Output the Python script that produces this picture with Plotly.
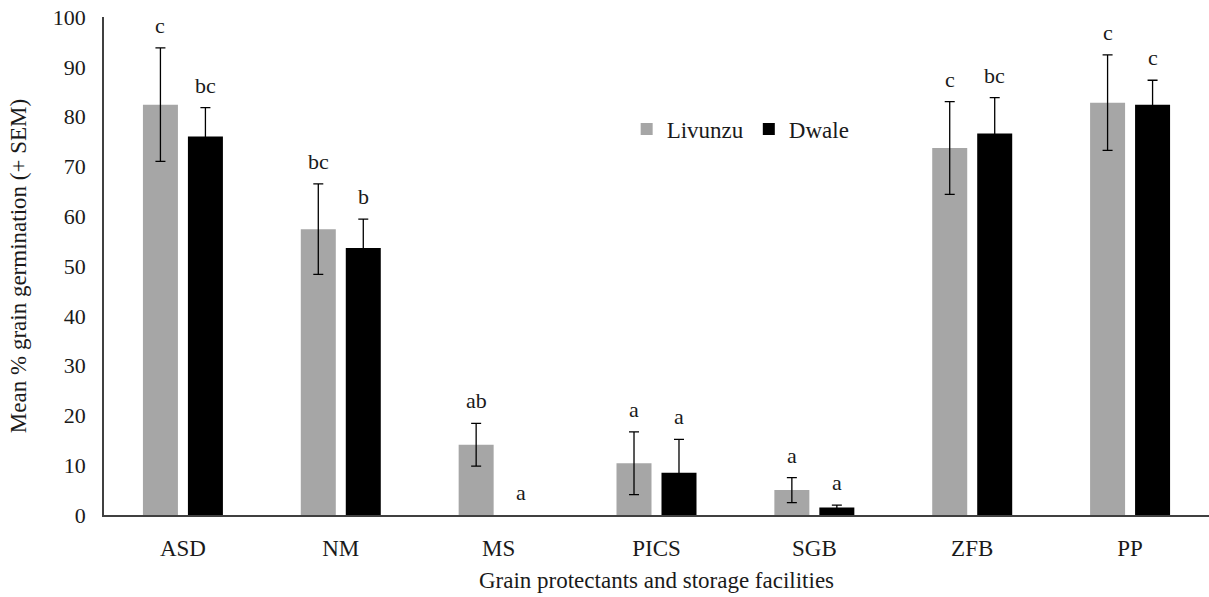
import plotly.graph_objects as go

# Grain protectants / storage facilities
categories = ["ASD", "NM", "MS", "PICS", "SGB", "ZFB", "PP"]

# Mean % grain germination per site
livunzu_mean = [82.4, 57.4, 14.1, 10.4, 5.0, 73.7, 82.8]
livunzu_sem = [11.4, 9.1, 4.3, 6.3, 2.5, 9.3, 9.6]
dwale_mean = [76.0, 53.6, 0.0, 8.5, 1.5, 76.6, 82.4]
dwale_sem = [5.8, 5.8, 0.0, 6.7, 0.5, 7.2, 4.9]

# Mean separation letters
livunzu_letters = ["c", "bc", "ab", "a", "a", "c", "c"]
dwale_letters = ["bc", "b", "a", "a", "a", "bc", "c"]

FONT = "Liberation Serif, Times New Roman, serif"
TEXT_COLOR = "#1a1a1a"
AXIS_COLOR = "#404040"
GREY = "#a6a6a6"


def drawn(values):
    # zero means leave no bar and no error cap at that category
    return [v if v else None for v in values]


fig = go.Figure()

fig.add_trace(go.Bar(
    name="Livunzu",
    x=categories,
    y=drawn(livunzu_mean),
    marker=dict(color=GREY, line=dict(width=0)),
    error_y=dict(type="data", array=livunzu_sem, visible=True,
                 color="#000000", thickness=1.3, width=5),
))
fig.add_trace(go.Bar(
    name="Dwale",
    x=categories,
    y=drawn(dwale_mean),
    marker=dict(color="#000000", line=dict(width=0)),
    error_y=dict(type="data", array=dwale_sem, visible=True,
                 color="#000000", thickness=1.3, width=5),
))

# Letters sit above each error bar
annotations = []
for i, cat in enumerate(categories):
    for mean, sem, letters, shift in (
        (livunzu_mean, livunzu_sem, livunzu_letters, -22.5),
        (dwale_mean, dwale_sem, dwale_letters, 22.5),
    ):
        annotations.append(dict(
            x=cat, y=mean[i] + sem[i], xref="x", yref="y",
            text=letters[i], showarrow=False,
            xanchor="center", yanchor="bottom",
            xshift=shift, yshift=8,
            font=dict(family=FONT, size=22, color=TEXT_COLOR),
        ))

fig.update_layout(
    width=1209,
    height=597,
    margin=dict(l=104, r=0, t=17, b=82),
    paper_bgcolor="white",
    plot_bgcolor="white",
    barmode="group",
    bargap=0.43,
    bargroupgap=0.222,
    font=dict(family=FONT, size=22, color=TEXT_COLOR),
    annotations=annotations,
    legend=dict(
        orientation="h",
        x=0.473, y=0.775,
        xanchor="left", yanchor="middle",
        bgcolor="rgba(0,0,0,0)",
        font=dict(family=FONT, size=23, color=TEXT_COLOR),
        itemclick=False,
    ),
    showlegend=True,
)

fig.update_xaxes(
    showline=True, linecolor=AXIS_COLOR, linewidth=1.5,
    ticks="", showgrid=False, zeroline=False,
    tickfont=dict(family=FONT, size=23, color=TEXT_COLOR),
    ticklabelstandoff=12,
    title=dict(text="Grain protectants and storage facilities",
               font=dict(family=FONT, size=23, color=TEXT_COLOR),
               standoff=12),
)
fig.update_yaxes(
    range=[0, 100], dtick=10, tick0=0,
    showline=True, linecolor=AXIS_COLOR, linewidth=1.5,
    ticks="", showgrid=False, zeroline=False,
    tickfont=dict(family=FONT, size=22, color=TEXT_COLOR),
    ticklabelstandoff=12,
    title=dict(text="Mean % grain germination (+ SEM)",
               font=dict(family=FONT, size=23, color=TEXT_COLOR),
               standoff=20),
)

fig.write_html("out.html")
